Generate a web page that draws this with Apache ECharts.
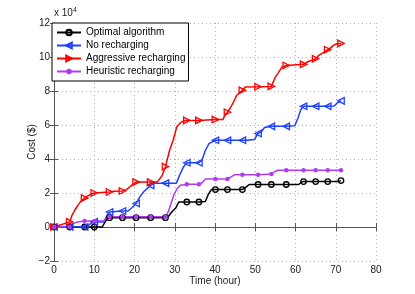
<!DOCTYPE html>
<html>
<head>
<meta charset="utf-8">
<script src="https://cdn.jsdelivr.net/npm/echarts@6/dist/echarts.min.js"></script>
<style>html,body{margin:0;padding:0;background:#fff}#c{width:415px;height:294px}</style>
</head>
<body>
<div id="c"></div>
<script>
// Hours at which markers are drawn (common to all series)
const markerT = [0, 3.9, 7.6, 10, 13.8, 17, 20.4, 24, 27.7, 33, 36, 40.1, 43.1, 46.8, 50.7, 54, 57.7, 62, 65, 68, 71.3];

// Optimal algorithm (x 1e4 $)
const optT = [0, 3.9, 7.6, 10, 12, 12.7, 13.3, 13.8, 17, 20.4, 24, 27.7, 28.5, 29.3, 30.2, 31, 33, 36, 37.6, 38.3, 39.1, 40.1, 43.1, 46.8, 47.7, 48.5, 50.7, 54, 57.7, 60.8, 61.5, 62, 65, 68, 70.5, 71.3];
const optV = [0, 0, 0, 0, 0, 0.3, 0.5, 0.55, 0.55, 0.55, 0.55, 0.55, 0.65, 0.9, 1.1, 1.47, 1.47, 1.47, 1.5, 1.9, 2.2, 2.2, 2.2, 2.2, 2.35, 2.5, 2.5, 2.5, 2.5, 2.5, 2.65, 2.67, 2.67, 2.67, 2.67, 2.73];

// No recharging
const noT = [0, 3.9, 7.6, 8.5, 9.4, 10, 12.4, 13.2, 13.8, 17, 18.4, 19.4, 20.4, 21.4, 22.4, 24, 25, 27.7, 30.4, 31.3, 32.2, 33, 36, 36.8, 37.6, 38.5, 40.1, 43.1, 46.8, 48, 49.8, 50.7, 51.5, 52.3, 54, 57.7, 59.8, 60.6, 61.3, 62, 65, 68, 69.6, 70.4, 71.3];
const noV = [0, 0, 0, 0.1, 0.25, 0.3, 0.3, 0.7, 0.88, 0.94, 0.94, 1.15, 1.38, 1.8, 2.1, 2.45, 2.58, 2.58, 2.58, 3.1, 3.55, 3.78, 3.78, 3.95, 4.5, 4.9, 5.1, 5.1, 5.1, 5.1, 5.15, 5.5, 5.6, 5.85, 5.92, 5.92, 5.95, 6.4, 6.9, 7.1, 7.1, 7.1, 7.12, 7.3, 7.42];

// Aggressive recharging
const aggT = [0, 3.9, 4.5, 5.2, 6, 6.8, 7.6, 8.5, 9.3, 10, 13.8, 14.8, 17, 18, 19, 20.4, 24, 25.6, 26.8, 27.7, 28.7, 29.6, 30.5, 31.5, 32.5, 33, 36, 38, 40.1, 42, 42.5, 43.1, 43.8, 44.6, 45.4, 46.8, 47.5, 50.7, 54, 55, 55.8, 56.6, 57.7, 62, 62.6, 63.3, 64, 65, 65.8, 66.5, 67.3, 68, 68.8, 69.5, 70.3, 71.3];
const aggV = [0, 0.3, 0.7, 1.0, 1.3, 1.55, 1.7, 1.85, 1.95, 2.0, 2.06, 2.1, 2.12, 2.2, 2.4, 2.64, 2.64, 2.64, 3.0, 3.55, 4.5, 5.1, 5.9, 6.15, 6.27, 6.27, 6.27, 6.3, 6.32, 6.33, 6.6, 6.75, 7.0, 7.35, 7.75, 8.04, 8.24, 8.25, 8.27, 8.82, 9.1, 9.4, 9.5, 9.57, 9.65, 9.75, 9.8, 9.9, 10.1, 10.2, 10.3, 10.43, 10.55, 10.7, 10.78, 10.8];

// Heuristic recharging
const heuT = [0, 3.9, 4.8, 5.8, 7.6, 10, 12.3, 13.1, 13.8, 17, 20.4, 24, 27.7, 28.4, 29.1, 29.8, 30.6, 31.4, 33, 36, 36.8, 37.6, 40.1, 43.1, 44, 44.9, 46.8, 50.7, 54, 54.8, 55.6, 57.7, 62, 65, 68, 71.3];
const heuV = [0, 0, 0.2, 0.3, 0.35, 0.35, 0.35, 0.55, 0.6, 0.6, 0.6, 0.6, 0.6, 0.9, 1.4, 1.9, 2.26, 2.45, 2.51, 2.51, 2.6, 2.82, 2.82, 2.82, 2.95, 3.08, 3.08, 3.08, 3.12, 3.25, 3.34, 3.34, 3.34, 3.34, 3.34, 3.34];

const seriesNames = ['Optimal algorithm', 'No recharging', 'Aggressive recharging', 'Heuristic recharging'];
const xTicks = [0, 10, 20, 30, 40, 50, 60, 70, 80];
const yTicks = [-2, 0, 2, 4, 6, 8, 10, 12];

function build(ts, vs) {
  return ts.map((t, i) => markerT.includes(t) ? { value: [t, vs[i]] } : { value: [t, vs[i]], symbol: 'none' });
}

const FONT = 'Liberation Sans, Arial, sans-serif';
const chart = echarts.init(document.getElementById('c'), null, { renderer: 'canvas' });

function mk(name, ts, vs, color, symbol, size, rot, filled) {
  return {
    name: name, type: 'line', data: build(ts, vs),
    symbol: symbol, symbolSize: size, symbolRotate: rot, showSymbol: true, showAllSymbol: true,
    lineStyle: { color: color, width: 1.5 },
    itemStyle: { color: filled ? color : 'rgba(255,255,255,0)', borderColor: color, borderWidth: filled ? 0 : 1.3 },
    emphasis: { disabled: true }, animation: false, z: 3
  };
}

const gridLine = { show: true, lineStyle: { type: [1, 3], color: '#b0b0b0', width: 1 } };
const axLine = { show: true, lineStyle: { color: '#555', width: 1 } };

chart.setOption({
  animation: false,
  grid: { left: 54, right: 39, top: 23, bottom: 33, containLabel: false },
  xAxis: [{
    type: 'value', min: xTicks[0], max: xTicks[xTicks.length - 1], interval: 10,
    name: 'Time (hour)', nameLocation: 'middle', nameGap: 15, nameMoveOverlap: false,
    nameTextStyle: { fontFamily: FONT, fontSize: 10, color: '#222' },
    axisLine: axLine, axisTick: { show: true, inside: true, length: 4, lineStyle: { color: '#555' } },
    axisLabel: { fontFamily: FONT, fontSize: 10, color: '#222', margin: 4 },
    splitLine: gridLine
  }, {
    type: 'value', position: 'top', min: 0, max: 80, interval: 10,
    axisLine: axLine, axisTick: { show: true, inside: true, length: 4, lineStyle: { color: '#555' } },
    axisLabel: { show: false }, splitLine: { show: false }
  }],
  yAxis: [{
    type: 'value', min: yTicks[0], max: yTicks[yTicks.length - 1], interval: 2,
    name: 'Cost ($)', nameLocation: 'middle', nameGap: 17, nameMoveOverlap: false,
    nameTextStyle: { fontFamily: FONT, fontSize: 10, color: '#222' },
    axisLine: axLine, axisTick: { show: true, inside: true, length: 4, lineStyle: { color: '#555' } },
    axisLabel: { fontFamily: FONT, fontSize: 10, color: '#222', margin: 4, formatter: v => (v < 0 ? '\u2212' + (-v) : String(v)) },
    splitLine: gridLine
  }, {
    type: 'value', position: 'right', min: -2, max: 12, interval: 2,
    axisLine: axLine, axisTick: { show: true, inside: true, length: 4, lineStyle: { color: '#555' } },
    axisLabel: { show: false }, splitLine: { show: false }
  }],
  legend: {
    orient: 'vertical', left: 52, top: 23, itemWidth: 24, itemHeight: 7, itemGap: 0,
    padding: [3, 3, 3, 4], backgroundColor: '#fff', borderColor: '#000', borderWidth: 1,
    textStyle: { fontFamily: FONT, fontSize: 10, color: '#000', lineHeight: 13 },
    data: seriesNames, z: 10
  },
  graphic: [{
    type: 'text', left: 54, top: 7,
    style: {
      text: '{a|x 10}{b|4}',
      rich: { a: { fontFamily: FONT, fontSize: 10, fill: '#222' }, b: { fontFamily: FONT, fontSize: 7, fill: '#222', verticalAlign: 'top', padding: [0, 0, 6, 0] } }
    }
  }],
  series: [
    mk(seriesNames[0], optT, optV, '#000000', 'circle', 5.5, 0, false),
    mk(seriesNames[1], noT, noV, '#2040ff', 'triangle', 6.5, 90, false),
    mk(seriesNames[2], aggT, aggV, '#ff0000', 'triangle', 6.5, -90, false),
    mk(seriesNames[3], heuT, heuV, '#b03cf0', 'circle', 4.5, 0, true)
  ]
});
</script>
</body>
</html>
